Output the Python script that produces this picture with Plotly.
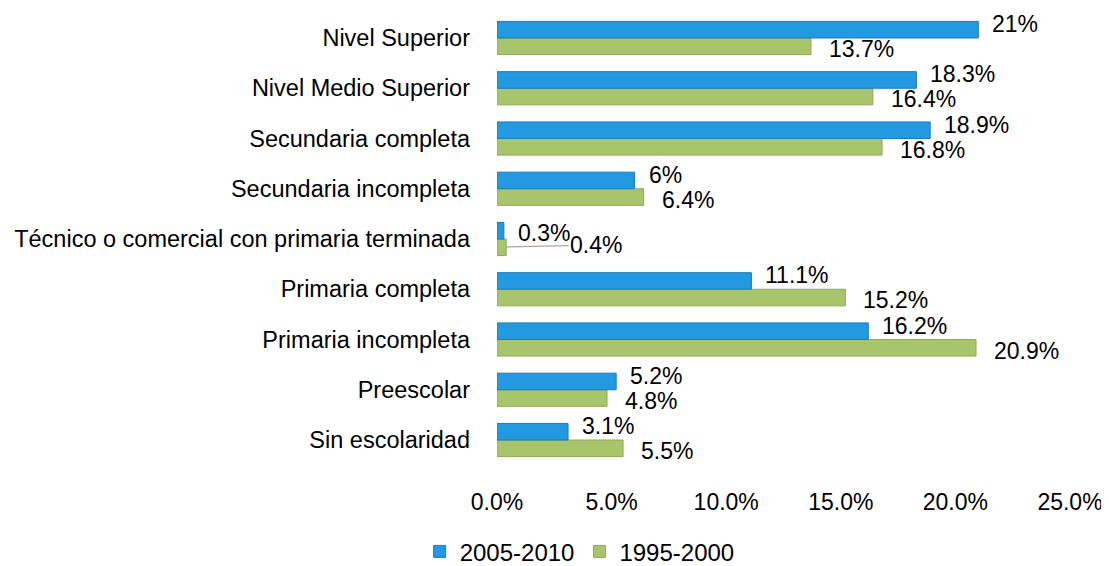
import plotly.graph_objects as go

categories = ["Sin escolaridad", "Preescolar", "Primaria incompleta", "Primaria completa",
              "Técnico o comercial con primaria terminada", "Secundaria incompleta",
              "Secundaria completa", "Nivel Medio Superior", "Nivel Superior"]
vals_2005_2010 = [3.1, 5.2, 16.2, 11.1, 0.3, 6, 18.9, 18.3, 21]
vals_1995_2000 = [5.5, 4.8, 20.9, 15.2, 0.4, 6.4, 16.8, 16.4, 13.7]
x_ticks = [0, 5, 10, 15, 20, 25]
x_tick_labels = ["0.0%", "5.0%", "10.0%", "15.0%", "20.0%", "25.0%"]

FONT = "Liberation Sans, Arial, sans-serif"
FS = 23
BLUE = "#2299E0"
GREEN = "#A9C56B"

fig = go.Figure()
fig.add_trace(go.Bar(
    y=categories, x=vals_1995_2000, orientation="h", name="1995-2000",
    marker=dict(color=GREEN, line=dict(color="#8DA957", width=1)),
    legendrank=2, hoverinfo="x+y",
))
fig.add_trace(go.Bar(
    y=categories, x=vals_2005_2010, orientation="h", name="2005-2010",
    marker=dict(color=BLUE, line=dict(color="#1A7DBA", width=1)),
    legendrank=1, hoverinfo="x+y",
))

annotations = []
for cat, v in zip(categories, vals_2005_2010):
    annotations.append(dict(x=v, y=cat, xref="x", yref="y", text=f"{v:g}%",
                            showarrow=False, xanchor="left", yanchor="middle",
                            xshift=12, yshift=(6 if v < 1 else 14),
                            font=dict(size=FS, color="#000", family=FONT)))
for cat, v in zip(categories, vals_1995_2000):
    if v < 1:
        annotations.append(dict(x=v, y=cat, xref="x", yref="y", text=f"{v:g}%",
                                showarrow=True, arrowhead=0, arrowwidth=1.3,
                                arrowcolor="#A8A8A8", ax=90, ay=-2, axref="pixel", ayref="pixel",
                                yshift=-8,
                                font=dict(size=FS, color="#000", family=FONT)))
    else:
        annotations.append(dict(x=v, y=cat, xref="x", yref="y", text=f"{v:g}%",
                                showarrow=False, xanchor="left", yanchor="middle",
                                xshift=16, yshift=-11,
                                font=dict(size=FS, color="#000", family=FONT)))

fig.update_layout(
    template="none",
    width=1101, height=558,
    margin=dict(l=489, r=39, t=1, b=100, autoexpand=False),
    barmode="group", bargap=0.34, bargroupgap=0,
    plot_bgcolor="white", paper_bgcolor="white",
    font=dict(family=FONT, size=23.5, color="#000"),
    annotations=annotations,
    legend=dict(orientation="h", x=-0.135, xanchor="left", y=-0.237, yanchor="bottom",
                font=dict(size=24), itemwidth=30, tracegroupgap=0, bgcolor="rgba(0,0,0,0)"),
    xaxis=dict(range=[0, 25], tickvals=x_ticks, ticktext=x_tick_labels,
               showgrid=False, zeroline=False, showline=False, ticks="",
               automargin=False, ticklabelstandoff=20, tickfont=dict(size=23)),
    yaxis=dict(showgrid=False, zeroline=False, showline=False, ticks="",
               automargin=False, ticklabelstandoff=26,
               categoryorder="array", categoryarray=categories),
)

fig.write_html("out.html")
